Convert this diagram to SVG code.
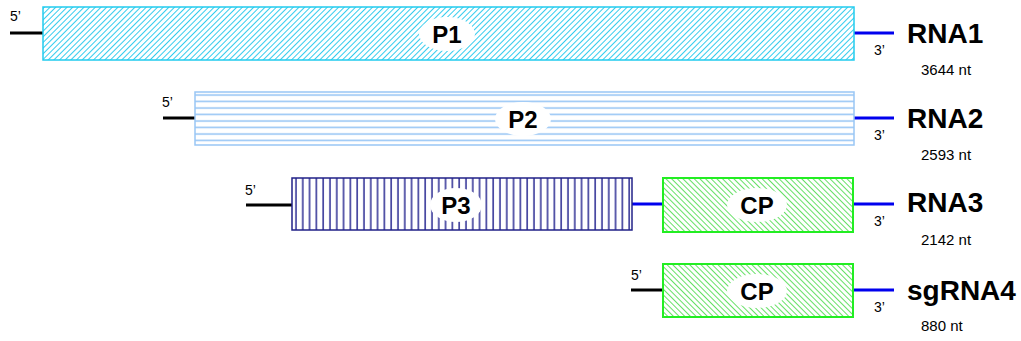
<svg xmlns="http://www.w3.org/2000/svg" width="1021" height="341" viewBox="0 0 1021 341">
<style>
.l5{stroke:#000;stroke-width:3;fill:none}
.l3{stroke:#0000ee;stroke-width:3;fill:none}
.end{font-family:"Liberation Sans",Arial,sans-serif;font-size:14px;fill:#000}
.name{font-family:"Liberation Sans",Arial,sans-serif;font-size:28px;font-weight:bold;fill:#000}
.nt{font-family:"Liberation Sans",Arial,sans-serif;font-size:15px;fill:#000}
.lab{font-family:"Liberation Sans",Arial,sans-serif;font-size:24px;font-weight:bold;fill:#000;text-anchor:middle}
.ell{fill:#fff;stroke:none}
</style>
<defs>
<pattern id="hp1" width="4" height="4" patternUnits="userSpaceOnUse" patternTransform="rotate(45)">
<rect width="4" height="4" fill="#fff"/>
<line x1="0" y1="0" x2="0" y2="4" stroke="#33ccee" stroke-width="2"/>
</pattern>
<pattern id="hp2" width="10" height="6.5" patternUnits="userSpaceOnUse" y="92">
<rect width="10" height="6.5" fill="#fff"/>
<line x1="0" y1="3" x2="10" y2="3" stroke="#99c6f5" stroke-width="1.6"/>
</pattern>
<pattern id="hp3" width="6.8" height="10" patternUnits="userSpaceOnUse" x="292">
<rect width="6.8" height="10" fill="#fff"/>
<line x1="4" y1="0" x2="4" y2="10" stroke="#44449f" stroke-width="1.7"/>
</pattern>
<pattern id="hcp" width="4" height="4" patternUnits="userSpaceOnUse" patternTransform="rotate(-45)">
<rect width="4" height="4" fill="#fff"/>
<line x1="0" y1="0" x2="0" y2="4" stroke="#55dd55" stroke-width="1.8"/>
</pattern>
</defs>
<g id="connectors">
<line class="l5" x1="10" y1="33" x2="43" y2="33"/>
<line class="l3" x1="854" y1="33" x2="894" y2="33"/>
<line class="l5" x1="163" y1="118" x2="195" y2="118"/>
<line class="l3" x1="854" y1="118" x2="894" y2="118"/>
<line class="l5" x1="246" y1="205" x2="292" y2="205"/>
<line class="l3" x1="632" y1="204" x2="663" y2="204"/>
<line class="l3" x1="853" y1="204" x2="894" y2="204"/>
<line class="l5" x1="631" y1="290" x2="663" y2="290"/>
<line class="l3" x1="853" y1="290" x2="894" y2="290"/>
</g>
<g id="rna1">
<rect x="43" y="7" width="811" height="53" fill="url(#hp1)" stroke="#22ccee" stroke-width="1.5"/>
<ellipse class="ell" cx="447" cy="34" rx="28" ry="17"/>
<text class="lab" x="447" y="43">P1</text>
<text class="end" x="10" y="21">5’</text>
<text class="end" x="874" y="55">3’</text>
<text class="name" x="907" y="43">RNA1</text>
<text class="nt" x="921" y="75">3644 nt</text>
</g>
<g id="rna2">
<rect x="195" y="92" width="659" height="53" fill="url(#hp2)" stroke="#99c6f5" stroke-width="1.5"/>
<ellipse class="ell" cx="523" cy="119" rx="28" ry="17"/>
<text class="lab" x="523" y="128">P2</text>
<text class="end" x="162" y="107">5’</text>
<text class="end" x="874" y="140">3’</text>
<text class="name" x="907" y="128">RNA2</text>
<text class="nt" x="921" y="160">2593 nt</text>
</g>
<g id="rna3">
<rect x="292" y="178" width="340" height="52" fill="url(#hp3)" stroke="#222288" stroke-width="1.5"/>
<ellipse class="ell" cx="456" cy="205" rx="26" ry="17"/>
<text class="lab" x="456" y="214">P3</text>
<rect x="663" y="178" width="190" height="54" fill="url(#hcp)" stroke="#22ee22" stroke-width="2"/>
<ellipse class="ell" cx="757" cy="205" rx="30" ry="17"/>
<text class="lab" x="757" y="214">CP</text>
<text class="end" x="245" y="195">5’</text>
<text class="end" x="874" y="226">3’</text>
<text class="name" x="907" y="212">RNA3</text>
<text class="nt" x="921" y="245">2142 nt</text>
</g>
<g id="sgrna4">
<rect x="663" y="264" width="190" height="53" fill="url(#hcp)" stroke="#22ee22" stroke-width="2"/>
<ellipse class="ell" cx="757" cy="291" rx="30" ry="17"/>
<text class="lab" x="757" y="300">CP</text>
<text class="end" x="631" y="280">5’</text>
<text class="end" x="874" y="312">3’</text>
<text class="name" x="907" y="300">sgRNA4</text>
<text class="nt" x="921" y="331">880 nt</text>
</g>
</svg>
